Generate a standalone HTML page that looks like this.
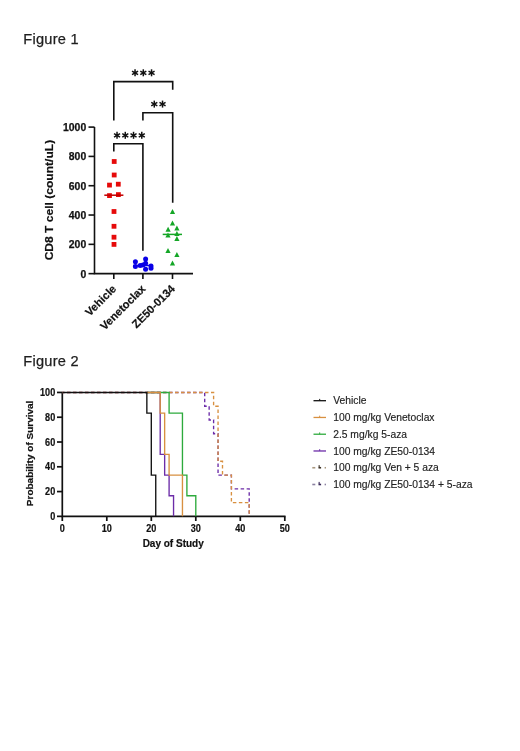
<!DOCTYPE html>
<html><head><meta charset="utf-8"><style>
html,body{margin:0;padding:0;background:#fff;}
body{width:520px;height:751px;overflow:hidden;}
svg{display:block;will-change:transform;}
text{font-family:"Liberation Sans",sans-serif;}
.fig{font-size:14.6px;fill:#1e1e1e;letter-spacing:0.25px;stroke:#1e1e1e;stroke-width:0.25px;}
.t1{font-size:10.4px;font-weight:bold;fill:#111;stroke:#111;stroke-width:0.25px;}
.t2{font-size:10.4px;font-weight:bold;fill:#111;stroke:#111;stroke-width:0.2px;}
.ax1{font-size:12px;font-weight:bold;fill:#111;stroke:#111;stroke-width:0.2px;}
.ax2{font-size:10px;font-weight:bold;fill:#111;stroke:#111;stroke-width:0.2px;}
.cat{font-size:11.2px;font-weight:bold;fill:#111;stroke:#111;stroke-width:0.2px;}
.leg{font-size:10.3px;fill:#222;stroke:#222;stroke-width:0.15px;}
</style></head><body>
<svg width="520" height="751" viewBox="0 0 520 751">
<text x="23.3" y="44.3" class="fig">Figure 1</text>
<text x="23.3" y="366.3" class="fig">Figure 2</text>
<g stroke="#111" stroke-width="1.6" fill="none">
<path d="M94.5,127.1 V273.65 H193"/>
<path d="M88.5,273.65 H94.5"/>
<path d="M88.5,244.34 H94.5"/>
<path d="M88.5,215.03 H94.5"/>
<path d="M88.5,185.72 H94.5"/>
<path d="M88.5,156.41 H94.5"/>
<path d="M88.5,127.10 H94.5"/>
<path d="M113.8,273.65 V279"/>
<path d="M142.9,273.65 V279"/>
<path d="M172.5,273.65 V279"/>
<path d="M113.8,120.6 V81.6 H172.7 V89.8"/>
<path d="M142.9,120.6 V112.8 H172.7 V202.7"/>
<path d="M113.8,151.6 V143.8 H142.9 V250.8"/>
</g>
<g stroke="#111" stroke-width="1.5" stroke-linecap="butt">
<line x1="135.05" y1="69.30" x2="135.05" y2="76.30"/><line x1="132.02" y1="71.05" x2="138.08" y2="74.55"/><line x1="132.02" y1="74.55" x2="138.08" y2="71.05"/><circle cx="135.05" cy="72.80" r="1.2" fill="#111" stroke="none"/><line x1="143.30" y1="69.30" x2="143.30" y2="76.30"/><line x1="140.27" y1="71.05" x2="146.33" y2="74.55"/><line x1="140.27" y1="74.55" x2="146.33" y2="71.05"/><circle cx="143.30" cy="72.80" r="1.2" fill="#111" stroke="none"/><line x1="151.55" y1="69.30" x2="151.55" y2="76.30"/><line x1="148.52" y1="71.05" x2="154.58" y2="74.55"/><line x1="148.52" y1="74.55" x2="154.58" y2="71.05"/><circle cx="151.55" cy="72.80" r="1.2" fill="#111" stroke="none"/>
<line x1="154.28" y1="100.60" x2="154.28" y2="107.60"/><line x1="151.24" y1="102.35" x2="157.31" y2="105.85"/><line x1="151.24" y1="105.85" x2="157.31" y2="102.35"/><circle cx="154.28" cy="104.10" r="1.2" fill="#111" stroke="none"/><line x1="162.53" y1="100.60" x2="162.53" y2="107.60"/><line x1="159.49" y1="102.35" x2="165.56" y2="105.85"/><line x1="159.49" y1="105.85" x2="165.56" y2="102.35"/><circle cx="162.53" cy="104.10" r="1.2" fill="#111" stroke="none"/>
<line x1="117.03" y1="131.80" x2="117.03" y2="138.80"/><line x1="113.99" y1="133.55" x2="120.06" y2="137.05"/><line x1="113.99" y1="137.05" x2="120.06" y2="133.55"/><circle cx="117.03" cy="135.30" r="1.2" fill="#111" stroke="none"/><line x1="125.28" y1="131.80" x2="125.28" y2="138.80"/><line x1="122.24" y1="133.55" x2="128.31" y2="137.05"/><line x1="122.24" y1="137.05" x2="128.31" y2="133.55"/><circle cx="125.28" cy="135.30" r="1.2" fill="#111" stroke="none"/><line x1="133.53" y1="131.80" x2="133.53" y2="138.80"/><line x1="130.49" y1="133.55" x2="136.56" y2="137.05"/><line x1="130.49" y1="137.05" x2="136.56" y2="133.55"/><circle cx="133.53" cy="135.30" r="1.2" fill="#111" stroke="none"/><line x1="141.78" y1="131.80" x2="141.78" y2="138.80"/><line x1="138.74" y1="133.55" x2="144.81" y2="137.05"/><line x1="138.74" y1="137.05" x2="144.81" y2="133.55"/><circle cx="141.78" cy="135.30" r="1.2" fill="#111" stroke="none"/>
</g>
<g class="t1" text-anchor="end">
<text x="86.2" y="277.55">0</text>
<text x="86.2" y="248.24">200</text>
<text x="86.2" y="218.93">400</text>
<text x="86.2" y="189.62">600</text>
<text x="86.2" y="160.31">800</text>
<text x="86.2" y="131.00">1000</text>
</g>
<text class="ax1" transform="translate(53.0,200.1) rotate(-90)" text-anchor="middle" textLength="120.5" lengthAdjust="spacingAndGlyphs" style="font-size:11.2px">CD8 T cell (count/uL)</text>
<text class="cat" transform="translate(117.0,289.5) rotate(-45)" text-anchor="end">Vehicle</text>
<text class="cat" transform="translate(146.1,289.5) rotate(-45)" text-anchor="end">Venetoclax</text>
<text class="cat" transform="translate(175.7,289.5) rotate(-45)" text-anchor="end">ZE50-0134</text>
<g fill="#E60A0A">
<rect x="111.80" y="159.10" width="4.8" height="4.8"/>
<rect x="111.80" y="172.60" width="4.8" height="4.8"/>
<rect x="107.10" y="182.70" width="4.8" height="4.8"/>
<rect x="115.90" y="181.80" width="4.8" height="4.8"/>
<rect x="107.10" y="193.20" width="4.8" height="4.8"/>
<rect x="116.00" y="192.20" width="4.8" height="4.8"/>
<rect x="111.60" y="209.10" width="4.8" height="4.8"/>
<rect x="111.60" y="223.90" width="4.8" height="4.8"/>
<rect x="111.60" y="234.80" width="4.8" height="4.8"/>
<rect x="111.60" y="242.00" width="4.8" height="4.8"/>
</g>
<path d="M104.3,195.2 H123.4" stroke="#C00000" stroke-width="1.5"/>
<g fill="#0A00E6">
<circle cx="135.4" cy="261.7" r="2.5"/>
<circle cx="145.6" cy="259" r="2.5"/>
<circle cx="135.4" cy="266.5" r="2.5"/>
<circle cx="140.2" cy="265.5" r="2.5"/>
<circle cx="142.9" cy="264.9" r="2.5"/>
<circle cx="145.6" cy="263.3" r="2.5"/>
<circle cx="145.6" cy="269.2" r="2.5"/>
<circle cx="151" cy="266" r="2.5"/>
<circle cx="151" cy="268.2" r="2.5"/>
</g>
<path d="M133,265.5 H153" stroke="#0A00E6" stroke-width="1.5"/>
<g fill="#14A626">
<path d="M172.50,209.00 L175.10,214.00 L169.90,214.00Z"/>
<path d="M172.50,220.60 L175.10,225.60 L169.90,225.60Z"/>
<path d="M168.10,226.80 L170.70,231.80 L165.50,231.80Z"/>
<path d="M176.90,225.60 L179.50,230.60 L174.30,230.60Z"/>
<path d="M168.00,232.60 L170.60,237.60 L165.40,237.60Z"/>
<path d="M176.90,231.10 L179.50,236.10 L174.30,236.10Z"/>
<path d="M176.90,235.90 L179.50,240.90 L174.30,240.90Z"/>
<path d="M168.00,247.90 L170.60,252.90 L165.40,252.90Z"/>
<path d="M176.90,252.10 L179.50,257.10 L174.30,257.10Z"/>
<path d="M172.50,260.50 L175.10,265.50 L169.90,265.50Z"/>
</g>
<path d="M162.7,234.4 H182" stroke="#14A626" stroke-width="1.5"/>
<g stroke="#111" stroke-width="1.7" fill="none">
<path d="M62.30,392.45 V516.35 H285.55"/>
<path d="M57,516.35 H62.30"/>
<path d="M57,491.57 H62.30"/>
<path d="M57,466.79 H62.30"/>
<path d="M57,442.01 H62.30"/>
<path d="M57,417.23 H62.30"/>
<path d="M57,392.45 H62.30"/>
<path d="M62.30,516.35 V521"/>
<path d="M106.80,516.35 V521"/>
<path d="M151.30,516.35 V521"/>
<path d="M195.80,516.35 V521"/>
<path d="M240.30,516.35 V521"/>
<path d="M284.80,516.35 V521"/>
</g>
<g class="t2" text-anchor="end">
<text transform="translate(55.2,519.90) scale(0.875,1)">0</text>
<text transform="translate(55.2,495.12) scale(0.875,1)">20</text>
<text transform="translate(55.2,470.34) scale(0.875,1)">40</text>
<text transform="translate(55.2,445.56) scale(0.875,1)">60</text>
<text transform="translate(55.2,420.78) scale(0.875,1)">80</text>
<text transform="translate(55.2,396.00) scale(0.875,1)">100</text>
</g>
<g class="t2" text-anchor="middle">
<text transform="translate(62.30,531.7) scale(0.875,1)">0</text>
<text transform="translate(106.80,531.7) scale(0.875,1)">10</text>
<text transform="translate(151.30,531.7) scale(0.875,1)">20</text>
<text transform="translate(195.80,531.7) scale(0.875,1)">30</text>
<text transform="translate(240.30,531.7) scale(0.875,1)">40</text>
<text transform="translate(284.80,531.7) scale(0.875,1)">50</text>
</g>
<text class="ax2" x="173.2" y="547.2" text-anchor="middle">Day of Study</text>
<text class="ax2" transform="translate(33.0,453.4) rotate(-90)" text-anchor="middle" textLength="105.5" lengthAdjust="spacingAndGlyphs" style="font-size:9.5px">Probability of Survival</text>
<g fill="none" stroke-width="1.35">
<path d="M62.30,392.45 H204.70 V406.22 H209.15 V419.98 H213.60 V433.75 H218.05 V475.05 H231.40 V488.82 H249.20 V516.35" stroke="#6C2CA8" stroke-dasharray="3.5 2.5" stroke-dashoffset="1.3"/>
<path d="M62.30,392.45 H213.60 V406.22 H218.05 V461.29 H222.50 V475.05 H231.40 V502.58 H249.20 V516.35" stroke="#D89040" stroke-dasharray="3.5 2.5" stroke-dashoffset="1.3"/>
<path d="M146.85,392.45 H160.20 V454.40 H164.65 V475.05 H169.10 V495.70 H173.55 V516.35" stroke="#6C2CA8"/>
<path d="M146.85,392.45 H169.10 V413.10 H182.45 V475.05 H186.90 V495.70 H195.80 V516.35" stroke="#2DAA3C"/>
<path d="M146.85,392.45 H160.20 V413.10 H164.65 V454.40 H169.10 V475.05 H182.45 V516.35" stroke="#D89040"/>
<path d="M62.30,392.45 H146.85 V413.10 H151.30 V475.05 H155.75 V516.35" stroke="#111"/>
</g>
<path d="M313.5,400.70 H326" stroke="#111" stroke-width="1.3"/>
<path d="M319.7,400.70 V398.90" stroke="#111" stroke-width="1"/>
<text class="leg" x="333.2" y="404.40">Vehicle</text>
<path d="M313.5,417.46 H326" stroke="#D89040" stroke-width="1.3"/>
<path d="M319.7,417.46 V415.66" stroke="#D89040" stroke-width="1"/>
<text class="leg" x="333.2" y="421.16">100 mg/kg Venetoclax</text>
<path d="M313.5,434.22 H326" stroke="#2DAA3C" stroke-width="1.3"/>
<path d="M319.7,434.22 V432.42" stroke="#2DAA3C" stroke-width="1"/>
<text class="leg" x="333.2" y="437.92">2.5 mg/kg 5-aza</text>
<path d="M313.5,450.98 H326" stroke="#6C2CA8" stroke-width="1.3"/>
<path d="M319.7,450.98 V449.18" stroke="#6C2CA8" stroke-width="1"/>
<text class="leg" x="333.2" y="454.68">100 mg/kg ZE50-0134</text>
<rect x="312.3" y="466.94" width="3" height="1.6" fill="#a89880"/>
<rect x="318.5" y="466.94" width="2.6" height="1.6" fill="#3c3024"/>
<rect x="318.6" y="465.14" width="1.1" height="2.2" fill="#3c3024"/>
<rect x="324.6" y="466.94" width="1.4" height="1.6" fill="#a89880"/>
<text class="leg" x="333.2" y="471.44">100 mg/kg Ven + 5 aza</text>
<rect x="312.3" y="483.70" width="3" height="1.6" fill="#8a80a0"/>
<rect x="318.5" y="483.70" width="2.6" height="1.6" fill="#3a2a5a"/>
<rect x="318.6" y="481.90" width="1.1" height="2.2" fill="#3a2a5a"/>
<rect x="324.6" y="483.70" width="1.4" height="1.6" fill="#8a80a0"/>
<text class="leg" x="333.2" y="488.20">100 mg/kg ZE50-0134 + 5-aza</text>
</svg>
</body></html>
